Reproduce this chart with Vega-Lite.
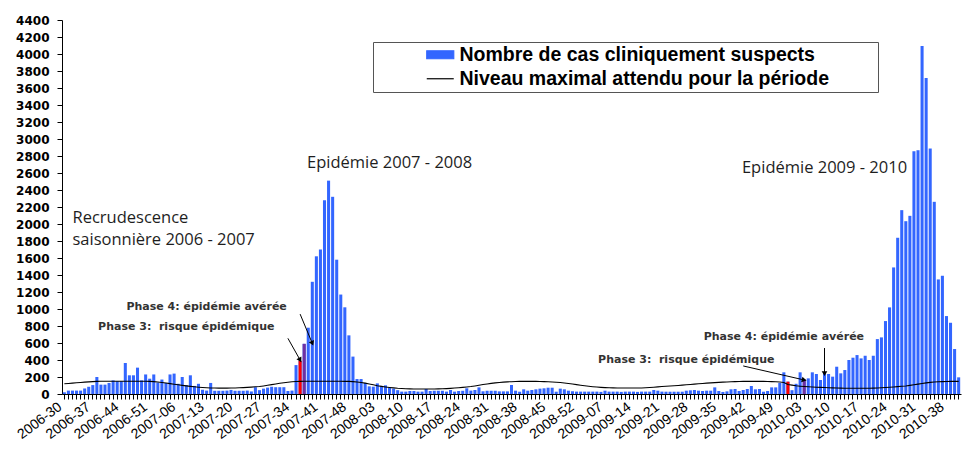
{
  "$schema": "https://vega.github.io/schema/vega-lite/v6.json",
  "width": 899,
  "height": 374,
  "autosize": {"type": "none"},
  "padding": {"left": 62, "top": 20, "right": 4, "bottom": 55},
  "background": "white",
  "config": {"view": {"stroke": null}, "font": "DejaVu Sans"},
  "datasets": {
    "semaines": [
      {"semaine":"2006-30","cas":20,"niveau":120,"phase":"aucune"},
      {"semaine":"2006-31","cas":40,"niveau":124,"phase":"aucune"},
      {"semaine":"2006-32","cas":40,"niveau":128,"phase":"aucune"},
      {"semaine":"2006-33","cas":40,"niveau":132,"phase":"aucune"},
      {"semaine":"2006-34","cas":40,"niveau":136,"phase":"aucune"},
      {"semaine":"2006-35","cas":65,"niveau":140,"phase":"aucune"},
      {"semaine":"2006-36","cas":85,"niveau":143,"phase":"aucune"},
      {"semaine":"2006-37","cas":105,"niveau":146,"phase":"aucune"},
      {"semaine":"2006-38","cas":200,"niveau":148,"phase":"aucune"},
      {"semaine":"2006-39","cas":110,"niveau":150,"phase":"aucune"},
      {"semaine":"2006-40","cas":110,"niveau":150,"phase":"aucune"},
      {"semaine":"2006-41","cas":130,"niveau":150,"phase":"aucune"},
      {"semaine":"2006-42","cas":160,"niveau":150,"phase":"aucune"},
      {"semaine":"2006-43","cas":150,"niveau":150,"phase":"aucune"},
      {"semaine":"2006-44","cas":150,"niveau":150,"phase":"aucune"},
      {"semaine":"2006-45","cas":365,"niveau":150,"phase":"aucune"},
      {"semaine":"2006-46","cas":220,"niveau":150,"phase":"aucune"},
      {"semaine":"2006-47","cas":220,"niveau":150,"phase":"aucune"},
      {"semaine":"2006-48","cas":310,"niveau":150,"phase":"aucune"},
      {"semaine":"2006-49","cas":160,"niveau":150,"phase":"aucune"},
      {"semaine":"2006-50","cas":230,"niveau":150,"phase":"aucune"},
      {"semaine":"2006-51","cas":180,"niveau":149,"phase":"aucune"},
      {"semaine":"2006-52","cas":230,"niveau":146,"phase":"aucune"},
      {"semaine":"2007-01","cas":135,"niveau":142,"phase":"aucune"},
      {"semaine":"2007-02","cas":170,"niveau":136,"phase":"aucune"},
      {"semaine":"2007-03","cas":130,"niveau":129,"phase":"aucune"},
      {"semaine":"2007-04","cas":230,"niveau":122,"phase":"aucune"},
      {"semaine":"2007-05","cas":240,"niveau":115,"phase":"aucune"},
      {"semaine":"2007-06","cas":120,"niveau":108,"phase":"aucune"},
      {"semaine":"2007-07","cas":200,"niveau":102,"phase":"aucune"},
      {"semaine":"2007-08","cas":105,"niveau":96,"phase":"aucune"},
      {"semaine":"2007-09","cas":220,"niveau":90,"phase":"aucune"},
      {"semaine":"2007-10","cas":95,"niveau":85,"phase":"aucune"},
      {"semaine":"2007-11","cas":120,"niveau":80,"phase":"aucune"},
      {"semaine":"2007-12","cas":50,"niveau":76,"phase":"aucune"},
      {"semaine":"2007-13","cas":40,"niveau":73,"phase":"aucune"},
      {"semaine":"2007-14","cas":130,"niveau":71,"phase":"aucune"},
      {"semaine":"2007-15","cas":38,"niveau":70,"phase":"aucune"},
      {"semaine":"2007-16","cas":38,"niveau":69,"phase":"aucune"},
      {"semaine":"2007-17","cas":38,"niveau":69,"phase":"aucune"},
      {"semaine":"2007-18","cas":40,"niveau":69,"phase":"aucune"},
      {"semaine":"2007-19","cas":48,"niveau":70,"phase":"aucune"},
      {"semaine":"2007-20","cas":38,"niveau":71,"phase":"aucune"},
      {"semaine":"2007-21","cas":38,"niveau":73,"phase":"aucune"},
      {"semaine":"2007-22","cas":38,"niveau":75,"phase":"aucune"},
      {"semaine":"2007-23","cas":40,"niveau":78,"phase":"aucune"},
      {"semaine":"2007-24","cas":30,"niveau":81,"phase":"aucune"},
      {"semaine":"2007-25","cas":80,"niveau":85,"phase":"aucune"},
      {"semaine":"2007-26","cas":45,"niveau":89,"phase":"aucune"},
      {"semaine":"2007-27","cas":63,"niveau":95,"phase":"aucune"},
      {"semaine":"2007-28","cas":75,"niveau":102,"phase":"aucune"},
      {"semaine":"2007-29","cas":85,"niveau":110,"phase":"aucune"},
      {"semaine":"2007-30","cas":80,"niveau":118,"phase":"aucune"},
      {"semaine":"2007-31","cas":80,"niveau":126,"phase":"aucune"},
      {"semaine":"2007-32","cas":80,"niveau":133,"phase":"aucune"},
      {"semaine":"2007-33","cas":35,"niveau":139,"phase":"aucune"},
      {"semaine":"2007-34","cas":40,"niveau":144,"phase":"aucune"},
      {"semaine":"2007-35","cas":340,"niveau":147,"phase":"aucune"},
      {"semaine":"2007-36","cas":390,"niveau":149,"phase":"Phase 3"},
      {"semaine":"2007-37","cas":590,"niveau":150,"phase":"Phase 4"},
      {"semaine":"2007-38","cas":780,"niveau":150,"phase":"aucune"},
      {"semaine":"2007-39","cas":1320,"niveau":150,"phase":"aucune"},
      {"semaine":"2007-40","cas":1620,"niveau":150,"phase":"aucune"},
      {"semaine":"2007-41","cas":1700,"niveau":150,"phase":"aucune"},
      {"semaine":"2007-42","cas":2280,"niveau":150,"phase":"aucune"},
      {"semaine":"2007-43","cas":2510,"niveau":150,"phase":"aucune"},
      {"semaine":"2007-44","cas":2320,"niveau":150,"phase":"aucune"},
      {"semaine":"2007-45","cas":1580,"niveau":150,"phase":"aucune"},
      {"semaine":"2007-46","cas":1170,"niveau":150,"phase":"aucune"},
      {"semaine":"2007-47","cas":1020,"niveau":149,"phase":"aucune"},
      {"semaine":"2007-48","cas":690,"niveau":148,"phase":"aucune"},
      {"semaine":"2007-49","cas":440,"niveau":146,"phase":"aucune"},
      {"semaine":"2007-50","cas":176,"niveau":142,"phase":"aucune"},
      {"semaine":"2007-51","cas":176,"niveau":136,"phase":"aucune"},
      {"semaine":"2007-52","cas":130,"niveau":128,"phase":"aucune"},
      {"semaine":"2008-01","cas":90,"niveau":118,"phase":"aucune"},
      {"semaine":"2008-02","cas":86,"niveau":108,"phase":"aucune"},
      {"semaine":"2008-03","cas":125,"niveau":98,"phase":"aucune"},
      {"semaine":"2008-04","cas":95,"niveau":90,"phase":"aucune"},
      {"semaine":"2008-05","cas":102,"niveau":83,"phase":"aucune"},
      {"semaine":"2008-06","cas":74,"niveau":77,"phase":"aucune"},
      {"semaine":"2008-07","cas":63,"niveau":72,"phase":"aucune"},
      {"semaine":"2008-08","cas":45,"niveau":67,"phase":"aucune"},
      {"semaine":"2008-09","cas":28,"niveau":64,"phase":"aucune"},
      {"semaine":"2008-10","cas":28,"niveau":61,"phase":"aucune"},
      {"semaine":"2008-11","cas":35,"niveau":60,"phase":"aucune"},
      {"semaine":"2008-12","cas":35,"niveau":59,"phase":"aucune"},
      {"semaine":"2008-13","cas":28,"niveau":58,"phase":"aucune"},
      {"semaine":"2008-14","cas":28,"niveau":58,"phase":"aucune"},
      {"semaine":"2008-15","cas":59,"niveau":58,"phase":"aucune"},
      {"semaine":"2008-16","cas":35,"niveau":58,"phase":"aucune"},
      {"semaine":"2008-17","cas":38,"niveau":59,"phase":"aucune"},
      {"semaine":"2008-18","cas":38,"niveau":60,"phase":"aucune"},
      {"semaine":"2008-19","cas":38,"niveau":61,"phase":"aucune"},
      {"semaine":"2008-20","cas":28,"niveau":63,"phase":"aucune"},
      {"semaine":"2008-21","cas":47,"niveau":66,"phase":"aucune"},
      {"semaine":"2008-22","cas":28,"niveau":70,"phase":"aucune"},
      {"semaine":"2008-23","cas":35,"niveau":74,"phase":"aucune"},
      {"semaine":"2008-24","cas":38,"niveau":78,"phase":"aucune"},
      {"semaine":"2008-25","cas":67,"niveau":83,"phase":"aucune"},
      {"semaine":"2008-26","cas":40,"niveau":88,"phase":"aucune"},
      {"semaine":"2008-27","cas":47,"niveau":95,"phase":"aucune"},
      {"semaine":"2008-28","cas":78,"niveau":103,"phase":"aucune"},
      {"semaine":"2008-29","cas":32,"niveau":111,"phase":"aucune"},
      {"semaine":"2008-30","cas":38,"niveau":118,"phase":"aucune"},
      {"semaine":"2008-31","cas":38,"niveau":125,"phase":"aucune"},
      {"semaine":"2008-32","cas":38,"niveau":131,"phase":"aucune"},
      {"semaine":"2008-33","cas":31,"niveau":136,"phase":"aucune"},
      {"semaine":"2008-34","cas":31,"niveau":140,"phase":"aucune"},
      {"semaine":"2008-35","cas":31,"niveau":143,"phase":"aucune"},
      {"semaine":"2008-36","cas":106,"niveau":145,"phase":"aucune"},
      {"semaine":"2008-37","cas":39,"niveau":147,"phase":"aucune"},
      {"semaine":"2008-38","cas":27,"niveau":148,"phase":"aucune"},
      {"semaine":"2008-39","cas":55,"niveau":148,"phase":"aucune"},
      {"semaine":"2008-40","cas":39,"niveau":148,"phase":"aucune"},
      {"semaine":"2008-41","cas":47,"niveau":148,"phase":"aucune"},
      {"semaine":"2008-42","cas":55,"niveau":148,"phase":"aucune"},
      {"semaine":"2008-43","cas":63,"niveau":147,"phase":"aucune"},
      {"semaine":"2008-44","cas":67,"niveau":146,"phase":"aucune"},
      {"semaine":"2008-45","cas":74,"niveau":144,"phase":"aucune"},
      {"semaine":"2008-46","cas":74,"niveau":142,"phase":"aucune"},
      {"semaine":"2008-47","cas":27,"niveau":139,"phase":"aucune"},
      {"semaine":"2008-48","cas":63,"niveau":135,"phase":"aucune"},
      {"semaine":"2008-49","cas":55,"niveau":130,"phase":"aucune"},
      {"semaine":"2008-50","cas":39,"niveau":124,"phase":"aucune"},
      {"semaine":"2008-51","cas":31,"niveau":117,"phase":"aucune"},
      {"semaine":"2008-52","cas":28,"niveau":110,"phase":"aucune"},
      {"semaine":"2009-01","cas":28,"niveau":103,"phase":"aucune"},
      {"semaine":"2009-02","cas":28,"niveau":97,"phase":"aucune"},
      {"semaine":"2009-03","cas":28,"niveau":91,"phase":"aucune"},
      {"semaine":"2009-04","cas":28,"niveau":86,"phase":"aucune"},
      {"semaine":"2009-05","cas":28,"niveau":82,"phase":"aucune"},
      {"semaine":"2009-06","cas":25,"niveau":78,"phase":"aucune"},
      {"semaine":"2009-07","cas":39,"niveau":75,"phase":"aucune"},
      {"semaine":"2009-08","cas":28,"niveau":73,"phase":"aucune"},
      {"semaine":"2009-09","cas":28,"niveau":72,"phase":"aucune"},
      {"semaine":"2009-10","cas":28,"niveau":71,"phase":"aucune"},
      {"semaine":"2009-11","cas":25,"niveau":70,"phase":"aucune"},
      {"semaine":"2009-12","cas":28,"niveau":70,"phase":"aucune"},
      {"semaine":"2009-13","cas":28,"niveau":70,"phase":"aucune"},
      {"semaine":"2009-14","cas":28,"niveau":70,"phase":"aucune"},
      {"semaine":"2009-15","cas":25,"niveau":70,"phase":"aucune"},
      {"semaine":"2009-16","cas":28,"niveau":71,"phase":"aucune"},
      {"semaine":"2009-17","cas":28,"niveau":73,"phase":"aucune"},
      {"semaine":"2009-18","cas":28,"niveau":76,"phase":"aucune"},
      {"semaine":"2009-19","cas":47,"niveau":80,"phase":"aucune"},
      {"semaine":"2009-20","cas":39,"niveau":84,"phase":"aucune"},
      {"semaine":"2009-21","cas":28,"niveau":88,"phase":"aucune"},
      {"semaine":"2009-22","cas":27,"niveau":91,"phase":"aucune"},
      {"semaine":"2009-23","cas":27,"niveau":94,"phase":"aucune"},
      {"semaine":"2009-24","cas":27,"niveau":97,"phase":"aucune"},
      {"semaine":"2009-25","cas":27,"niveau":100,"phase":"aucune"},
      {"semaine":"2009-26","cas":27,"niveau":104,"phase":"aucune"},
      {"semaine":"2009-27","cas":39,"niveau":108,"phase":"aucune"},
      {"semaine":"2009-28","cas":43,"niveau":112,"phase":"aucune"},
      {"semaine":"2009-29","cas":47,"niveau":116,"phase":"aucune"},
      {"semaine":"2009-30","cas":39,"niveau":120,"phase":"aucune"},
      {"semaine":"2009-31","cas":35,"niveau":124,"phase":"aucune"},
      {"semaine":"2009-32","cas":39,"niveau":128,"phase":"aucune"},
      {"semaine":"2009-33","cas":39,"niveau":131,"phase":"aucune"},
      {"semaine":"2009-34","cas":78,"niveau":134,"phase":"aucune"},
      {"semaine":"2009-35","cas":35,"niveau":137,"phase":"aucune"},
      {"semaine":"2009-36","cas":24,"niveau":140,"phase":"aucune"},
      {"semaine":"2009-37","cas":31,"niveau":142,"phase":"aucune"},
      {"semaine":"2009-38","cas":55,"niveau":144,"phase":"aucune"},
      {"semaine":"2009-39","cas":59,"niveau":146,"phase":"aucune"},
      {"semaine":"2009-40","cas":35,"niveau":147,"phase":"aucune"},
      {"semaine":"2009-41","cas":47,"niveau":148,"phase":"aucune"},
      {"semaine":"2009-42","cas":59,"niveau":148,"phase":"aucune"},
      {"semaine":"2009-43","cas":94,"niveau":148,"phase":"aucune"},
      {"semaine":"2009-44","cas":55,"niveau":148,"phase":"aucune"},
      {"semaine":"2009-45","cas":59,"niveau":148,"phase":"aucune"},
      {"semaine":"2009-46","cas":27,"niveau":148,"phase":"aucune"},
      {"semaine":"2009-47","cas":35,"niveau":147,"phase":"aucune"},
      {"semaine":"2009-48","cas":78,"niveau":146,"phase":"aucune"},
      {"semaine":"2009-49","cas":78,"niveau":144,"phase":"aucune"},
      {"semaine":"2009-50","cas":130,"niveau":141,"phase":"aucune"},
      {"semaine":"2009-51","cas":255,"niveau":136,"phase":"aucune"},
      {"semaine":"2009-52","cas":145,"niveau":112,"phase":"Phase 3"},
      {"semaine":"2009-53","cas":45,"niveau":104,"phase":"aucune"},
      {"semaine":"2010-01","cas":120,"niveau":97,"phase":"aucune"},
      {"semaine":"2010-02","cas":255,"niveau":92,"phase":"aucune"},
      {"semaine":"2010-03","cas":170,"niveau":88,"phase":"Phase 4"},
      {"semaine":"2010-04","cas":184,"niveau":85,"phase":"aucune"},
      {"semaine":"2010-05","cas":255,"niveau":82,"phase":"aucune"},
      {"semaine":"2010-06","cas":235,"niveau":80,"phase":"aucune"},
      {"semaine":"2010-07","cas":165,"niveau":78,"phase":"aucune"},
      {"semaine":"2010-08","cas":243,"niveau":76,"phase":"aucune"},
      {"semaine":"2010-09","cas":235,"niveau":74,"phase":"aucune"},
      {"semaine":"2010-10","cas":204,"niveau":72,"phase":"aucune"},
      {"semaine":"2010-11","cas":321,"niveau":70,"phase":"aucune"},
      {"semaine":"2010-12","cas":243,"niveau":69,"phase":"aucune"},
      {"semaine":"2010-13","cas":282,"niveau":68,"phase":"aucune"},
      {"semaine":"2010-14","cas":400,"niveau":67,"phase":"aucune"},
      {"semaine":"2010-15","cas":427,"niveau":67,"phase":"aucune"},
      {"semaine":"2010-16","cas":458,"niveau":67,"phase":"aucune"},
      {"semaine":"2010-17","cas":419,"niveau":67,"phase":"aucune"},
      {"semaine":"2010-18","cas":450,"niveau":67,"phase":"aucune"},
      {"semaine":"2010-19","cas":400,"niveau":68,"phase":"aucune"},
      {"semaine":"2010-20","cas":450,"niveau":69,"phase":"aucune"},
      {"semaine":"2010-21","cas":646,"niveau":71,"phase":"aucune"},
      {"semaine":"2010-22","cas":666,"niveau":73,"phase":"aucune"},
      {"semaine":"2010-23","cas":858,"niveau":76,"phase":"aucune"},
      {"semaine":"2010-24","cas":1019,"niveau":79,"phase":"aucune"},
      {"semaine":"2010-25","cas":1489,"niveau":83,"phase":"aucune"},
      {"semaine":"2010-26","cas":1838,"niveau":87,"phase":"aucune"},
      {"semaine":"2010-27","cas":2163,"niveau":91,"phase":"aucune"},
      {"semaine":"2010-28","cas":2033,"niveau":95,"phase":"aucune"},
      {"semaine":"2010-29","cas":2096,"niveau":101,"phase":"aucune"},
      {"semaine":"2010-30","cas":2856,"niveau":108,"phase":"aucune"},
      {"semaine":"2010-31","cas":2868,"niveau":116,"phase":"aucune"},
      {"semaine":"2010-32","cas":4094,"niveau":124,"phase":"aucune"},
      {"semaine":"2010-33","cas":3718,"niveau":131,"phase":"aucune"},
      {"semaine":"2010-34","cas":2888,"niveau":137,"phase":"aucune"},
      {"semaine":"2010-35","cas":2261,"niveau":141,"phase":"aucune"},
      {"semaine":"2010-36","cas":1348,"niveau":144,"phase":"aucune"},
      {"semaine":"2010-37","cas":1391,"niveau":146,"phase":"aucune"},
      {"semaine":"2010-38","cas":917,"niveau":147,"phase":"aucune"},
      {"semaine":"2010-39","cas":838,"niveau":148,"phase":"aucune"},
      {"semaine":"2010-40","cas":529,"niveau":148,"phase":"aucune"},
      {"semaine":"2010-41","cas":196,"niveau":148,"phase":"aucune"}
    ],
    "textes": [
      {"texte":"Recrudescence","semaine":"2006-32","v":2069,"groupe":"gauche"},
      {"texte":"saisonnière 2006 - 2007","semaine":"2006-32","v":1810,"groupe":"gauche"},
      {"texte":"Epidémie 2007 - 2008","semaine":"2008-06","v":2715,"groupe":"centre"},
      {"texte":"Epidémie 2009 - 2010","semaine":"2010-08","v":2653,"groupe":"centre"},
      {"texte":"Phase 4: épidémie avérée","semaine":"2007-13","v":1026,"groupe":"phase"},
      {"texte":"Phase 3:\u00a0 risque épidémique","semaine":"2007-08","v":791,"groupe":"phase"},
      {"texte":"Phase 4: épidémie avérée","semaine":"2009-51","v":674,"groupe":"phase"},
      {"texte":"Phase 3:\u00a0 risque épidémique","semaine":"2009-27","v":400,"groupe":"phase"}
    ],
    "fleches": [
      {"fleche":"p4_2007","de":"2007-36","v_de":940,"a":"2007-39","v_a":596},
      {"fleche":"p3_2007","de":"2007-33","v_de":655,"a":"2007-36","v_a":400},
      {"fleche":"p3_2010","de":"2009-41","v_de":330,"a":"2010-03","v_a":165},
      {"fleche":"p4_2010","de":"2010-08","v_de":541,"a":"2010-08","v_a":240}
    ]
  },
  "encoding": {
    "x": {
      "field": "semaine",
      "type": "ordinal",
      "sort": null,
      "scale": {"paddingInner": 0.25, "paddingOuter": 0.2},
      "axis": {
        "title": null,
        "labelExpr": "indexof(domain('x'), datum.value) % 7 === 0 ? datum.label : ''",
        "labelAngle": -37,
        "labelAlign": "right",
        "labelBaseline": "middle",
        "labelFont": "Liberation Sans",
        "labelFontSize": 14,
        "labelColor": "#000000",
        "labelOverlap": false,
        "labelPadding": 6,
        "labelOffset": -4,
        "labelBound": false,
        "labelFlush": false,
        "tickSize": 5,
        "tickColor": "#000000",
        "domainColor": "#000000",
        "grid": false
      }
    }
  },
  "layer": [
    {
      "data": {"name": "semaines"},
      "mark": {"type": "bar"},
      "encoding": {
        "y": {
          "field": "cas",
          "type": "quantitative",
          "scale": {"domain": [0, 4400], "nice": false},
          "axis": {
            "title": null,
            "values": [0,200,400,600,800,1000,1200,1400,1600,1800,2000,2200,2400,2600,2800,3000,3200,3400,3600,3800,4000,4200,4400],
            "tickCount": 40,
            "format": "d",
            "labelOverlap": false,
            "labelFont": "DejaVu Sans",
            "labelFontWeight": "bold",
            "labelFontSize": 12,
            "labelColor": "#000000",
            "labelPadding": 8,
            "tickSize": 5,
            "tickColor": "#000000",
            "domainColor": "#000000",
            "grid": false
          }
        },
        "color": {
          "datum": "Nombre de cas cliniquement suspects",
          "scale": {
            "domain": ["Nombre de cas cliniquement suspects", "Niveau maximal attendu pour la période"],
            "range": ["#3366ff", "#000000"]
          },
          "legend": {
            "title": null,
            "orient": "none",
            "legendX": 311,
            "legendY": 22,
            "direction": "vertical",
            "padding": 3,
            "fillColor": "#ffffff",
            "strokeColor": "#555555",
            "labelFont": "Liberation Sans",
            "labelFontWeight": "bold",
            "labelFontSize": 19.5,
            "labelColor": "#000000",
            "labelLimit": 900,
            "labelExpr": "datum.label + '\u2800\u2800\u2800'",
            "symbolSize": 100,
            "symbolStrokeWidth": 1.2,
            "symbolType": {"expr": "datum.value == 'Niveau maximal attendu pour la période' ? 'M-1.6,0H3.8' : 'M-1.6,-0.8H3.8V0.8H-1.6Z'"},
            "symbolOffset": 49,
            "labelOffset": 15,
            "rowPadding": 3
          }
        }
      }
    },
    {
      "data": {"name": "semaines"},
      "transform": [{"filter": "datum.phase != 'aucune'"}],
      "mark": {"type": "bar"},
      "encoding": {
        "y": {"field": "cas", "type": "quantitative"},
        "fill": {
          "field": "phase",
          "type": "nominal",
          "scale": {"domain": ["Phase 3", "Phase 4"], "range": ["#ff0000", "#7030a0"]},
          "legend": null
        }
      }
    },
    {
      "data": {"name": "semaines"},
      "mark": {"type": "line", "strokeWidth": 1.1},
      "encoding": {
        "y": {"field": "niveau", "type": "quantitative"},
        "color": {"datum": "Niveau maximal attendu pour la période"}
      }
    },
    {
      "data": {"name": "fleches"},
      "mark": {"type": "rule", "color": "#000000", "strokeWidth": 1},
      "encoding": {
        "x": {"field": "de", "type": "ordinal"},
        "x2": {"field": "a"},
        "y": {"field": "v_de", "type": "quantitative"},
        "y2": {"field": "v_a"}
      }
    },
    {
      "data": {"name": "fleches"},
      "transform": [{"filter": "datum.fleche == 'p4_2007'"}],
      "mark": {"type": "point", "shape": "triangle-down", "filled": true, "color": "#000000", "size": 32, "angle": -22.6, "opacity": 1},
      "encoding": {"x": {"field": "a", "type": "ordinal"}, "y": {"field": "v_a", "type": "quantitative"}}
    },
    {
      "data": {"name": "fleches"},
      "transform": [{"filter": "datum.fleche == 'p3_2007'"}],
      "mark": {"type": "point", "shape": "triangle-down", "filled": true, "color": "#000000", "size": 32, "angle": -29.3, "opacity": 1},
      "encoding": {"x": {"field": "a", "type": "ordinal"}, "y": {"field": "v_a", "type": "quantitative"}}
    },
    {
      "data": {"name": "fleches"},
      "transform": [{"filter": "datum.fleche == 'p3_2010'"}],
      "mark": {"type": "point", "shape": "triangle-down", "filled": true, "color": "#000000", "size": 32, "angle": -77, "opacity": 1},
      "encoding": {"x": {"field": "a", "type": "ordinal"}, "y": {"field": "v_a", "type": "quantitative"}}
    },
    {
      "data": {"name": "fleches"},
      "transform": [{"filter": "datum.fleche == 'p4_2010'"}],
      "mark": {"type": "point", "shape": "triangle-down", "filled": true, "color": "#000000", "size": 32, "angle": 0, "opacity": 1},
      "encoding": {"x": {"field": "a", "type": "ordinal"}, "y": {"field": "v_a", "type": "quantitative"}}
    },
    {
      "data": {"name": "textes"},
      "transform": [{"filter": "datum.groupe == 'gauche'"}],
      "mark": {"type": "text", "font": "Open Sans", "fontSize": 16.5, "color": "#1e1e1e", "align": "left", "baseline": "middle"},
      "encoding": {
        "x": {"field": "semaine", "type": "ordinal"},
        "y": {"field": "v", "type": "quantitative"},
        "text": {"field": "texte"}
      }
    },
    {
      "data": {"name": "textes"},
      "transform": [{"filter": "datum.groupe == 'centre'"}],
      "mark": {"type": "text", "font": "Open Sans", "fontSize": 16.5, "color": "#1e1e1e", "align": "center", "baseline": "middle"},
      "encoding": {
        "x": {"field": "semaine", "type": "ordinal"},
        "y": {"field": "v", "type": "quantitative"},
        "text": {"field": "texte"}
      }
    },
    {
      "data": {"name": "textes"},
      "transform": [{"filter": "datum.groupe == 'phase'"}],
      "mark": {"type": "text", "font": "DejaVu Sans", "fontWeight": "bold", "fontSize": 11, "color": "#333333", "align": "center", "baseline": "middle"},
      "encoding": {
        "x": {"field": "semaine", "type": "ordinal"},
        "y": {"field": "v", "type": "quantitative"},
        "text": {"field": "texte"}
      }
    }
  ]
}
